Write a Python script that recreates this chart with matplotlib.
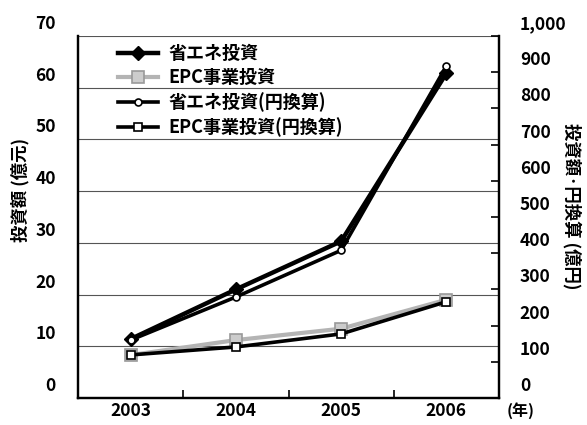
import matplotlib
matplotlib.use("Agg")
import matplotlib.pyplot as plt
import matplotlib.transforms as mtransforms
from matplotlib.ticker import FuncFormatter, FixedLocator

plt.rcParams['font.family'] = ['Noto Sans CJK JP', 'DejaVu Sans']
plt.rcParams['font.weight'] = 'bold'

years = ['2003', '2004', '2005', '2006']
# 億元
energy_saving_cny = [11.4, 21.0, 30.3, 62.8]
epc_cny = [8.3, 11.2, 13.4, 19.0]
# 億円 (円換算)
energy_saving_jpy = [160, 279, 408, 917]
epc_jpy = [119, 141, 177, 266]

left_ticks = [0, 10, 20, 30, 40, 50, 60, 70]
right_ticks = [0, 100, 200, 300, 400, 500, 600, 700, 800, 900, 1000]

W, H = 587, 425
fig = plt.figure(figsize=(W / 100, H / 100), dpi=100)
ax = fig.add_axes([78 / W, 1 - 398 / H, (499 - 78) / W, (398 - 36) / H])
ax2 = ax.twinx()

x = list(range(len(years)))

# gridlines at left-axis ticks
for v in left_ticks[1:]:
    ax.axhline(v, color='#555555', lw=0.8, zorder=0)

l1, = ax.plot(x, energy_saving_cny, color='black', lw=3.2, marker='D', ms=7,
              mfc='black', mec='black', zorder=4, label='省エネ投資')
l2, = ax.plot(x, epc_cny, color='#b4b4b4', lw=3.0, marker='s', ms=9,
              mfc='#cccccc', mec='#999999', mew=1.2, zorder=3, label='EPC事業投資')
l3, = ax2.plot(x, energy_saving_jpy, color='black', lw=2.6, marker='o', ms=5,
               mfc='white', mec='black', mew=1.2, zorder=5, label='省エネ投資(円換算)')
l4, = ax2.plot(x, epc_jpy, color='black', lw=2.6, marker='s', ms=5.5,
               mfc='white', mec='black', mew=1.2, zorder=5, label='EPC事業投資(円換算)')

ax.set_xlim(-0.5, len(years) - 0.5)
ax.set_ylim(0, 70)
ax2.set_ylim(0, 1000)

fs = 12.5
ax.set_xticks(x)
ax.set_xticklabels(years, fontsize=fs, fontweight='bold')
ax.xaxis.set_minor_locator(FixedLocator([0.5, 1.5, 2.5]))
ax.tick_params(axis='x', which='major', length=0, pad=3)
ax.tick_params(axis='x', which='minor', direction='in', length=6, width=1.2)

ax.set_yticks(left_ticks)
ax.set_yticklabels([str(v) for v in left_ticks], fontsize=fs, fontweight='bold')
ax.tick_params(axis='y', length=0, pad=16)

ax2.set_yticks(right_ticks)
ax2.yaxis.set_major_formatter(FuncFormatter(lambda v, p: f'{int(v):,}'))
ax2.tick_params(axis='y', direction='in', length=6, width=1.2, pad=15,
                labelsize=fs)
for t in ax2.get_yticklabels():
    t.set_fontweight('bold')

# tick labels sit above their tick positions
shift = mtransforms.ScaledTranslation(0, 14 / 100, fig.dpi_scale_trans)
for t in ax.get_yticklabels() + ax2.get_yticklabels():
    t.set_transform(t.get_transform() + shift)

for a in (ax, ax2):
    a.spines['top'].set_visible(False)
    for s in ('left', 'right', 'bottom'):
        a.spines[s].set_linewidth(1.6)

fig.text(20 / W, 1 - 190 / H, '投資額 (億元)', rotation=90, ha='center',
         va='center', fontsize=12.5, fontweight='bold')
fig.text(572 / W, 1 - 206 / H, '投資額·円換算 (億円)', rotation=-90,
         ha='center', va='center', fontsize=12.5, fontweight='bold')
fig.text(521 / W, 1 - 411 / H, '(年)', ha='center', va='center',
         fontsize=11.5, fontweight='bold')

leg = ax.legend(handles=[l1, l2, l3, l4], loc='upper left',
                bbox_to_anchor=(118 / W, 1 - 44 / H),
                bbox_transform=fig.transFigure, frameon=False,
                fontsize=13, handlelength=2.2, handletextpad=0.6,
                labelspacing=0.28, borderpad=0, borderaxespad=0)
for t in leg.get_texts():
    t.set_fontweight('bold')
leg.set_zorder(10)

fig.savefig('out.png', dpi=100)
